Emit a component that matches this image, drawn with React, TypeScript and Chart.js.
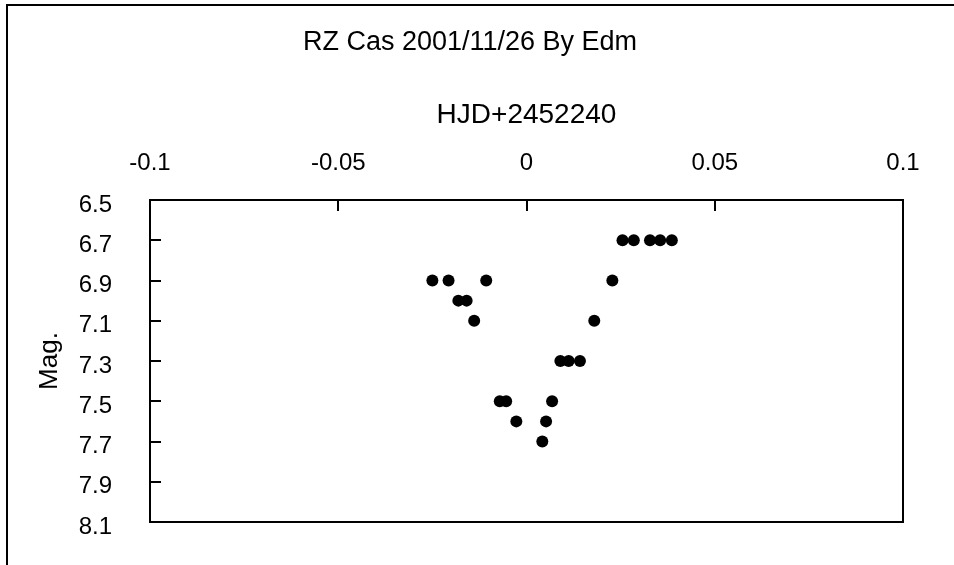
import React, { useEffect, useRef } from "react";
import { Chart, registerables } from "chart.js";

Chart.register(...registerables);

const TITLE = "RZ Cas 2001/11/26 By Edm";
const X_TITLE = "HJD+2452240";
const Y_TITLE = "Mag.";

const HJD = [-0.025, -0.0207, -0.0181, -0.0159, -0.0139, -0.0107, -0.0071, -0.0054, -0.0027, 0.0042, 0.0052, 0.0068, 0.009, 0.0112, 0.0142, 0.018, 0.0228, 0.0255, 0.0285, 0.0328, 0.0355, 0.0386];
const MAG = [6.9, 6.9, 7.0, 7.0, 7.1, 6.9, 7.5, 7.5, 7.6, 7.7, 7.6, 7.5, 7.3, 7.3, 7.3, 7.1, 6.9, 6.7, 6.7, 6.7, 6.7, 6.7];

const X_TICKS = [-0.1, -0.05, 0, 0.05, 0.1];
const X_TICK_LABELS = ["-0.1", "-0.05", "0", "0.05", "0.1"];
const Y_TICKS = [6.5, 6.7, 6.9, 7.1, 7.3, 7.5, 7.7, 7.9, 8.1];
const Y_TICK_LABELS = ["6.5", "6.7", "6.9", "7.1", "7.3", "7.5", "7.7", "7.9", "8.1"];

const FONT = '"Liberation Sans", Arial, sans-serif';

const framePlugin = {
  id: "frame",
  beforeDraw(chart: any) {
    const ctx = chart.ctx;
    ctx.save();
    ctx.fillStyle = "#ffffff";
    ctx.fillRect(0, 0, chart.width, chart.height);
    ctx.strokeStyle = "#000";
    ctx.lineWidth = 2;
    ctx.beginPath();
    ctx.moveTo(7, chart.height + 2);
    ctx.lineTo(7, 5);
    ctx.lineTo(chart.width + 2, 5);
    ctx.stroke();
    ctx.fillStyle = "#000";
    ctx.font = `27px ${FONT}`;
    ctx.textAlign = "center";
    ctx.textBaseline = "alphabetic";
    ctx.fillText(TITLE, 470, 50);
    ctx.restore();
  },
  afterDraw(chart: any) {
    const ctx = chart.ctx;
    const { left, right, top, bottom } = chart.chartArea;
    ctx.save();
    ctx.strokeStyle = "#000";
    ctx.lineWidth = 2;
    ctx.strokeRect(left, top, right - left, bottom - top);
    const xs = chart.scales.x;
    const ys = chart.scales.y;
    ctx.beginPath();
    xs.ticks.forEach((t: any) => {
      const px = Math.round(xs.getPixelForValue(t.value));
      ctx.moveTo(px, top);
      ctx.lineTo(px, top + 11);
    });
    ys.ticks.forEach((t: any) => {
      const py = Math.round(ys.getPixelForValue(t.value));
      ctx.moveTo(left, py);
      ctx.lineTo(left + 11, py);
    });
    ctx.stroke();
    ctx.restore();
  },
};

export default function App() {
  const ref = useRef<HTMLCanvasElement | null>(null);
  useEffect(() => {
    document.body.style.margin = "0";
    document.body.style.overflow = "hidden";
    const canvas = ref.current;
    if (!canvas) return;
    const chart = new Chart(canvas, {
      type: "scatter",
      data: {
        datasets: [
          {
            label: "RZ Cas",
            data: HJD.map((x, i) => ({ x, y: MAG[i] })),
            backgroundColor: "#000",
            borderColor: "#000",
            borderWidth: 0,
            pointRadius: 6,
            pointHoverRadius: 6,
            pointStyle: "circle",
          },
        ],
      },
      options: {
        animation: false,
        responsive: false,
        devicePixelRatio: 1,
        layout: { padding: { left: 0, top: 0, right: 51, bottom: 43 } },
        plugins: {
          legend: { display: false },
          title: { display: false },
          tooltip: { enabled: false },
        },
        scales: {
          x: {
            type: "linear",
            position: "top",
            min: -0.1,
            max: 0.1,
            afterBuildTicks: (s: any) => {
              s.ticks = X_TICKS.map((v) => ({ value: v }));
            },
            afterFit: (s: any) => {
              s.height = 200;
              s.paddingLeft = 0;
              s.paddingRight = 0;
            },
            ticks: {
              color: "#000",
              font: { family: FONT, size: 24 },
              padding: 22,
              maxRotation: 0,
              autoSkip: false,
              callback: (v: any) => {
                const i = X_TICKS.findIndex((t) => Math.abs(t - Number(v)) < 1e-9);
                return i >= 0 ? X_TICK_LABELS[i] : "";
              },
            },
            grid: { display: false, drawTicks: false },
            border: { display: false },
            title: {
              display: true,
              text: X_TITLE,
              color: "#000",
              font: { family: FONT, size: 28 },
              padding: { top: 98, bottom: 0 },
            },
          },
          y: {
            type: "linear",
            position: "left",
            reverse: true,
            min: 6.5,
            max: 8.1,
            afterBuildTicks: (s: any) => {
              s.ticks = Y_TICKS.map((v) => ({ value: v }));
            },
            afterFit: (s: any) => {
              s.width = 150;
              s.paddingTop = 0;
              s.paddingBottom = 0;
            },
            ticks: {
              color: "#000",
              font: { family: FONT, size: 24 },
              padding: 38,
              labelOffset: 5,
              autoSkip: false,
              callback: (v: any) => {
                const i = Y_TICKS.findIndex((t) => Math.abs(t - Number(v)) < 1e-9);
                return i >= 0 ? Y_TICK_LABELS[i] : "";
              },
            },
            grid: { display: false, drawTicks: false },
            border: { display: false },
            title: {
              display: true,
              text: Y_TITLE,
              color: "#000",
              font: { family: FONT, size: 26 },
              padding: { top: 34, bottom: 0 },
            },
          },
        },
      },
      plugins: [framePlugin],
    });
    return () => chart.destroy();
  }, []);
  return <canvas ref={ref} width={954} height={565} style={{ display: "block" }} />;
}
